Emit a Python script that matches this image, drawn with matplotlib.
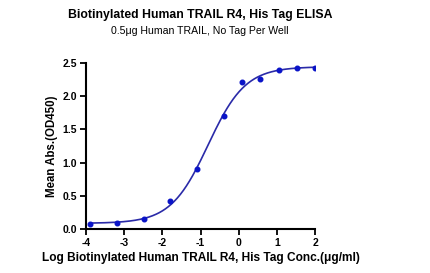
import numpy as np
import matplotlib
matplotlib.use("Agg")
import matplotlib.pyplot as plt

plt.rcParams['font.family'] = ['Liberation Sans', 'DejaVu Sans']

# log10 concentration (ug/ml) and mean OD450
log_conc = [-3.89, -3.19, -2.49, -1.79, -1.09, -0.39, 0.09, 0.57, 1.05, 1.52, 2.0]
od450 = [0.08, 0.09, 0.15, 0.42, 0.90, 1.70, 2.21, 2.26, 2.40, 2.42, 2.43]

x_ticks = [-4, -3, -2, -1, 0, 1, 2]
y_ticks = [0.0, 0.5, 1.0, 1.5, 2.0, 2.5]


def four_pl(x, p):
    bottom, top, logec50, hill = p
    return bottom + (top - bottom) / (1 + 10 ** ((logec50 - x) * hill))


def fit_4pl(x, y, p0, n_iter=200):
    # simple damped Gauss-Newton, enough for a smooth fit line
    p = np.array(p0, dtype=float)
    lam = 1e-3
    for _ in range(n_iter):
        r = y - four_pl(x, p)
        J = np.zeros((len(x), len(p)))
        for i in range(len(p)):
            dp = np.zeros_like(p)
            dp[i] = 1e-6
            J[:, i] = (four_pl(x, p + dp) - four_pl(x, p - dp)) / 2e-6
        A = J.T @ J + lam * np.eye(len(p))
        step = np.linalg.solve(A, J.T @ r)
        p_new = p + step
        if np.sum((y - four_pl(x, p_new)) ** 2) < np.sum(r ** 2):
            p = p_new
            lam *= 0.5
        else:
            lam *= 4
    return p


x = np.array(log_conc)
y = np.array(od450)
params = fit_4pl(x, y, [0.08, 2.4, -0.6, 1.0])

fig = plt.figure(figsize=(4.31, 2.73), dpi=100)
ax = fig.add_axes([0.1995, 0.161, 0.5315, 0.608])

xs = np.linspace(-3.89, 2.0, 300)
ax.plot(xs, four_pl(xs, params), color='#2a2aa8', lw=1.2, zorder=2)
ax.plot(x, y, 'o', color='#0a14c8', ms=3.3, zorder=3)

ax.set_xlim(-4, 2)
ax.set_ylim(0, 2.5)
ax.set_xticks(x_ticks)
ax.set_xticklabels([str(t) for t in x_ticks])
ax.set_yticks(y_ticks)
ax.set_yticklabels([f"{t:.1f}" for t in y_ticks])

for s in ['top', 'right']:
    ax.spines[s].set_visible(False)
for s in ['left', 'bottom']:
    ax.spines[s].set_linewidth(1.5)
ax.tick_params(width=1.3, length=4, labelsize=7.5, pad=2.5)
for lab in ax.get_xticklabels() + ax.get_yticklabels():
    lab.set_fontweight('bold')
ax.margins(0)

ax.set_ylabel("Mean Abs.(OD450)", fontsize=8.3, fontweight='bold', labelpad=3)
ax.set_xlabel("Log Biotinylated Human TRAIL R4, His Tag Conc.(\u03bcg/ml)",
              fontsize=8.6, fontweight='bold', labelpad=3)

fig.text(0.464, 0.945, "Biotinylated Human TRAIL R4, His Tag ELISA",
         ha='center', va='center', fontsize=8.8, fontweight='bold')
fig.text(0.464, 0.885, "0.5\u03bcg Human TRAIL, No Tag Per Well",
         ha='center', va='center', fontsize=7.6)

fig.savefig("out.png", dpi=100)
